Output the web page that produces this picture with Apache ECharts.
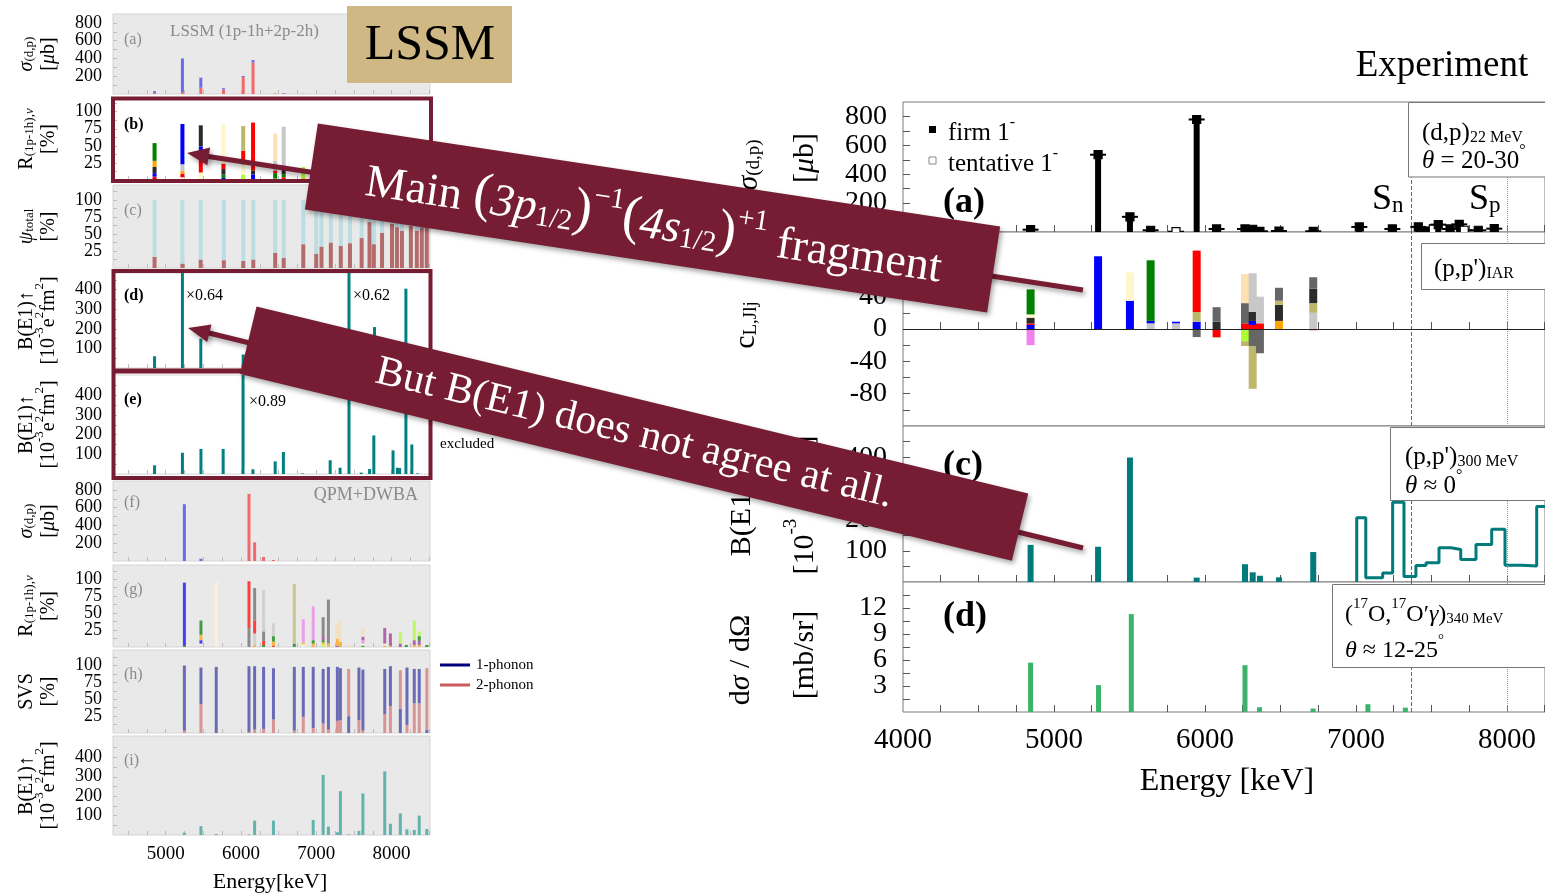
<!DOCTYPE html>
<html><head><meta charset="utf-8">
<script src="https://cdn.jsdelivr.net/npm/echarts@6/dist/echarts.min.js"></script>
<style>html,body{margin:0;padding:0;background:#fff}#c{width:1545px;height:896px}</style>
</head><body><div id="c"></div>
<script>
// ================= DATA =================
// ---- Left column (LSSM / QPM), energies in keV ----
// (a) LSSM sigma(d,p) [ub]: two stacked contributions
const lssmDpE    = [4852, 5222, 5466, 5767, 6029, 6160, 6454, 6567, 6827];
const lssmDpRed  = [13, 21, 70, 51, 191, 354, 6, 4, 2];
const lssmDpBlue = [19, 379, 114, 15, 12, 27, 0, 5, 0];
// (b) LSSM R(1p-1h) [%]: segments [component, value]
const lssmRE = [4852, 5222, 5466, 5767, 6029, 6160, 6454, 6567, 6827];
const lssmRSeg = [
  [[1,5],[0,5],[2,9],[11,9],[4,26]],
  [[3,4],[1,5],[11,4],[6,10],[0,59]],
  [[3,11],[1,23],[4,10],[0,5],[2,31]],
  [[0,3],[4,5],[2,8],[1,8],[3,59]],
  [[10,8],[3,15],[1,20],[7,36]],
  [[0,8],[2,6],[1,70]],
  [[5,2],[4,8],[1,4],[6,14],[9,40]],
  [[1,4],[4,4],[2,8],[7,4],[6,58]],
  [[11,3],[10,16]]
];
// (c) LSSM psi_total [%]
const psiE    = [4852, 5222, 5464, 5772, 6031, 6163, 6454, 6567, 6827, 6999, 7069, 7193, 7325, 7447, 7602, 7707, 7764, 7873, 8005, 8071, 8137, 8256, 8335, 8401, 8467];
const psiLow  = [16.5, 6.5, 12.5, 11.5, 10.5, 12.5, 22.5, 15, 35, 21, 31.5, 37.5, 32.5, 36.5, 44, 67.5, 35, 51.5, 65, 60, 55, 62, 55, 60, 75];
const psiHigh = [83.5, 93.5, 87.5, 88.5, 89.5, 87.5, 77.5, 85, 65, 79, 68.5, 62.5, 67.5, 63.5, 56, 32.5, 65, 48.5, 35, 40, 45, 38, 45, 40, 25];
// (d) LSSM B(E1) [1e-3 e2fm2]
const lssmBE = [4852, 5222, 5466, 6029, 7434, 7773, 8190];
const lssmB  = [60, 700, 150, 69, 700, 209, 405];
// (e) B(E1) [1e-3 e2fm2]
const e2E = [4852, 5222, 5468, 5763, 6027, 6158, 6454, 6563, 6818, 7184, 7316, 7434, 7597, 7708, 7764, 8019, 8077, 8107, 8190, 8269, 8344];
const e2B = [44, 108, 127, 127, 600, 24, 64, 112, 3, 70, 32, 600, 7, 25, 196, 120, 32, 30, 600, 150, 3];
// (f) QPM sigma(d,p)
const qpmDpE = [5248, 5468, 6106, 6181, 6300, 6431];
const qpmDpSeg = [[[1,639]], [[1,26]], [[0,755]], [[0,210]], [[0,45]], [[0,11]]];
// (g) QPM R(1p-1h)
const qpmRE = [5248, 5468, 5671, 6106, 6181, 6300, 6431, 6708, 6827, 6959, 7091, 7161, 7280, 7320, 7430, 7619, 7909, 7984, 8116, 8195, 8301, 8367, 8468];
const qpmRSeg = [
  [[4,2],[0,93]], [[6,2],[3,3],[0,5],[11,8],[4,21]], [[3,96]], [[8,28],[1,69]],
  [[11,3],[6,17],[1,19],[8,48]], [[4,3],[1,6],[8,14],[6,61]], [[1,2],[11,6],[4,8],[6,19]],
  [[4,5],[7,88]], [[3,4],[11,3],[5,34]], [[11,5],[4,5],[5,50]], [[10,4],[11,3],[4,3],[12,6],[8,28]],
  [[11,5],[8,65]], [[12,2],[11,10],[13,23]], [[11,8],[13,31]], [[13,4]], [[4,2],[3,3],[5,5],[12,5],[13,13]],
  [[11,2],[3,3],[12,23]], [[11,2],[12,18]], [[12,5],[10,17]], [[4,3]], [[11,3],[12,7],[10,29]],
  [[11,3],[12,6],[4,7],[10,7]], [[4,3]]
];
// (h) QPM SVS [%]: [0 = 2-phonon, 1 = 1-phonon]
const svsE = [5248, 5468, 5671, 6106, 6181, 6300, 6431, 6708, 6827, 6959, 7091, 7161, 7280, 7320, 7430, 7566, 7619, 7909, 7984, 8116, 8204, 8301, 8367, 8468];
const svsSeg = [
  [[0,3.5],[1,96.5]], [[0,43],[1,54]], [[1,98]], [[0,1],[1,98]], [[0,5],[1,94]], [[0,6],[1,92]],
  [[0,20],[1,76]], [[0,3.5],[1,94.5]], [[0,24],[1,74]], [[0,7.5],[1,90.5]], [[0,14],[1,81]], [[0,5],[1,93]],
  [[0,18],[1,80]], [[0,19],[1,77]], [[1,25],[0,70]], [[0,19],[1,78]], [[0,3.5],[1,90.5]], [[0,28],[1,67]],
  [[0,40],[1,59]], [[1,36],[0,57]], [[0,12],[1,85]], [[0,44],[1,51]], [[0,44],[1,51]], [[1,5],[0,91]]
];
// (i) QPM B(E1)
const qpmBE = [5248, 5468, 5671, 6106, 6181, 6431, 6959, 7091, 7161, 7280, 7320, 7430, 7566, 7619, 7909, 7984, 8116, 8204, 8301, 8367, 8468];
const qpmB  = [12, 46, 5, 3, 74, 74, 77, 309, 43, 14, 226, 3, 21, 214, 328, 58, 111, 29, 26, 100, 31];

// ---- Right column (Experiment) ----
const dpE     = [4845, 5292, 5503, 5640, 5808, 5945, 6077, 6265, 6316, 6364, 6490, 6717, 7022, 7241, 7413, 7468, 7512, 7545, 7623, 7684, 7717, 7810, 7916];
const dpSigma = [16, 535, 105, 12, 2, 779, 21, 21, 19, 5, 7, 5, 35, 21, 35, 7, 21, 51, 21, 53, 12, 12, 23];
const dpFirm  = [1, 1, 1, 1, 0, 1, 1, 1, 1, 1, 1, 1, 1, 1, 1, 1, 0, 1, 1, 1, 0, 1, 1];
const iarE = [4845, 5292, 5503, 5640, 5808, 5945, 6077, 6265, 6316, 6364, 6490, 6717];
const iarSeg = [
  [[0,5],[1,2],[2,7],[3,4],[4,31],[5,-20]],
  [[0,90]],
  [[0,35],[3,35]],
  [[6,7],[0,3],[4,75]],
  [[6,7],[0,2]],
  [[0,9],[7,12],[1,76],[8,-10]],
  [[2,9],[8,18],[1,-10],[7,-1]],
  [[1,7],[8,25],[9,36],[10,-15],[7,-6]],
  [[1,5],[0,5],[2,11],[6,48],[8,-21],[7,-53]],
  [[1,7],[6,33],[8,-30]],
  [[11,10],[2,20],[7,5],[8,16]],
  [[6,20],[7,12],[2,18],[8,14],[1,-1.5]]
];
const ppE = [4845, 5292, 5503, 5945, 6265, 6316, 6364, 6490, 6717];
const ppB = [119, 113, 399, 14, 57, 31, 20, 15, 96];
const ppHistEdges = [7005, 7065, 7177, 7243, 7318, 7397, 7464, 7550, 7629, 7694, 7795, 7899, 7987, 8099, 8197, 8300];
const ppHistVals  = [206, 14, 29, 256, 18, 53, 62, 110, 104, 72, 120, 169, 54, 51, 242];
const oxE   = [4845, 5295, 5512, 6265, 6361, 6716, 7079, 7327];
const oxSig = [5.7, 3.1, 11.3, 5.4, 0.55, 0.4, 0.9, 0.5];
const SN = 7368, SP = 8004;

// tick labels
const leftXLabels  = [5000, 6000, 7000, 8000];
const rightXLabels = [4000, 5000, 6000, 7000, 8000];
const pctLabels = [25, 50, 75, 100];
const sigLabels = [200, 400, 600, 800];
const be1Labels = [100, 200, 300, 400];
const rA = [200, 400, 600, 800], rB = [-80, -40, 0, 40, 80], rC = [100, 200, 300, 400], rD = [3, 6, 9, 12];

// ================= STYLE =================
const FF = 'Liberation Serif';
const MAROON = '#761d33';
const compColors = ['#0000ff','#ff0000','#2b2b2b','#fff6cc','#008000','#ee82ee','#c8c8c8','#bdb76b','#666666','#ffe0b0','#adff2f','#ffa500','#993399','#f5deb3'];
const sigmaColors = ['#f06a6a', '#6a6aef'];
const psiColors = ['#b36b6b', '#bcdde2'];
const svsColors = ['#d99494', '#6b6bb5'];

function range(a, b, s) { const r = []; for (let v = a; v <= b + 1e-9; v += s) r.push(+v.toFixed(6)); return r; }
function plain(v) { return String(v); }

function rich(size, color, lh) {
  lh = lh || Math.round(size * 1.25);
  const b = { fontFamily: FF, color: color, fill: color };
  const ss = Math.round(size * 0.64);
  return {
    m: Object.assign({}, b, { fontSize: size, lineHeight: lh, verticalAlign: 'bottom' }),
    i: Object.assign({}, b, { fontSize: size, lineHeight: lh, verticalAlign: 'bottom', fontStyle: 'italic' }),
    b: Object.assign({}, b, { fontSize: size, lineHeight: lh, verticalAlign: 'bottom', fontWeight: 'bold' }),
    s: Object.assign({}, b, { fontSize: ss, lineHeight: ss, verticalAlign: 'bottom' }),
    si: Object.assign({}, b, { fontSize: ss, lineHeight: ss, verticalAlign: 'bottom', fontStyle: 'italic' }),
    p: Object.assign({}, b, { fontSize: ss, lineHeight: ss, verticalAlign: 'top' }),
    big: Object.assign({}, b, { fontSize: Math.round(size * 1.2), lineHeight: lh, verticalAlign: 'bottom' })
  };
}
function txt(x, y, text, size, o) {
  o = o || {};
  const color = o.color || '#000';
  return { type: 'text', x: x, y: y, rotation: o.rot || 0, z: o.z || 70, silent: true,
    style: { text: text, fontFamily: FF, fontSize: size, fontWeight: o.weight || 'normal', fill: color,
      align: o.align || 'left', verticalAlign: o.va || 'middle', textAlign: o.align || 'left', textVerticalAlign: o.va || 'middle',
      rich: rich(size, color, o.lh) } };
}

// ================= LAYOUT =================
const LX = { left: 113, width: 317, min: 4300, max: 8510 };
const RX = { left: 903, width: 642, min: 4000, max: 8252 };
const leftPanels = [
  { top: 14,  h: 80, max: 900, lab: sigLabels, tick: range(100, 800, 100), bg: '#e9e9e9' },
  { top: 98,  h: 82, max: 120, lab: pctLabels, tick: range(12.5, 112.5, 12.5), bg: '#ffffff' },
  { top: 185, h: 83, max: 122, lab: pctLabels, tick: range(12.5, 112.5, 12.5), bg: '#e9e9e9' },
  { top: 273, h: 95, max: 485, lab: be1Labels, tick: range(50, 450, 50), bg: '#ffffff' },
  { top: 375, h: 99, max: 503, lab: be1Labels, tick: range(50, 450, 50), bg: '#ffffff' },
  { top: 481, h: 80, max: 900, lab: sigLabels, tick: range(100, 800, 100), bg: '#e9e9e9' },
  { top: 565, h: 82, max: 121, lab: pctLabels, tick: range(12.5, 112.5, 12.5), bg: '#e9e9e9' },
  { top: 650, h: 83, max: 123, lab: pctLabels, tick: range(12.5, 112.5, 12.5), bg: '#e9e9e9' },
  { top: 736, h: 99, max: 510, lab: be1Labels, tick: range(50, 450, 50), bg: '#e9e9e9' }
];
const rightPanels = [
  { top: 102, h: 130, min: 0,    max: 900, lab: rA, tick: range(100, 800, 100) },
  { top: 232, h: 194, min: -120, max: 120, lab: rB, tick: range(-100, 100, 20) },
  { top: 426, h: 156, min: 0,    max: 500, lab: rC, tick: range(50, 450, 50) },
  { top: 582, h: 130, min: 0,    max: 15,  lab: rD, tick: range(1.5, 13.5, 1.5) }
];

const grids = [], xAxes = [], yAxes = [];
function labelCfg(show, values, size, margin) {
  return { show: show, customValues: values, fontFamily: FF, fontSize: size, color: '#000', margin: margin,
    hideOverlap: false, showMinLabel: true, showMaxLabel: true, formatter: plain };
}
leftPanels.forEach(function (p, k) {
  grids.push({ left: LX.left, width: LX.width, top: p.top, height: p.h, show: true, backgroundColor: p.bg,
    borderColor: '#d4d4d4', borderWidth: 1, containLabel: false, outerBoundsMode: 'none' });
  xAxes.push({ type: 'value', gridIndex: k, min: LX.min, max: LX.max, position: 'bottom',
    axisLine: { show: false }, splitLine: { show: false },
    axisTick: { show: true, inside: true, length: 4, lineStyle: { color: '#bdbdbd' }, customValues: range(4500, 8500, 250) },
    axisLabel: labelCfg(k === 8, leftXLabels, 19, 10) });
  yAxes.push({ type: 'value', gridIndex: k, min: 0, max: p.max, position: 'left',
    axisLine: { show: false }, splitLine: { show: false },
    axisTick: { show: true, inside: true, length: 4, lineStyle: { color: '#bdbdbd' }, customValues: p.tick },
    axisLabel: { show: false } });
});
rightPanels.forEach(function (p, k) {
  const gi = 9 + k;
  grids.push({ left: RX.left, width: RX.width, top: p.top, height: p.h, show: true, backgroundColor: '#fff',
    borderColor: '#7a7a7a', borderWidth: 1, containLabel: false, outerBoundsMode: 'none' });
  xAxes.push({ type: 'value', gridIndex: gi, min: RX.min, max: RX.max, position: 'bottom',
    axisLine: { show: false }, splitLine: { show: false },
    axisTick: { show: true, inside: true, length: 7, lineStyle: { color: '#555' }, customValues: range(4250, 8250, 250) },
    axisLabel: labelCfg(k === 3, rightXLabels, 29, 14) });
  yAxes.push({ type: 'value', gridIndex: gi, min: p.min, max: p.max, position: 'left',
    axisLine: { show: false }, splitLine: { show: false },
    axisTick: { show: true, inside: true, length: 7, lineStyle: { color: '#555' }, customValues: p.tick },
    axisLabel: { show: false } });
});

// ================= SERIES =================
function segSeries(gi, energies, segs, palette, w, opacity) {
  return { type: 'custom', xAxisIndex: gi, yAxisIndex: gi, clip: true, z: 3, silent: true,
    data: energies.map(function (e, i) { return [e, i]; }),
    renderItem: function (params, api) {
      const e = api.value(0), idx = api.value(1);
      let pos = 0, neg = 0; const ch = [];
      segs[idx].forEach(function (s) {
        const v = s[1]; let a, b;
        if (v >= 0) { a = pos; b = pos + v; pos = b; } else { a = neg; b = neg + v; neg = b; }
        const p0 = api.coord([e, a]), p1 = api.coord([e, b]);
        ch.push({ type: 'rect', shape: { x: p0[0] - w / 2, y: Math.min(p0[1], p1[1]), width: w, height: Math.abs(p1[1] - p0[1]) },
          style: { fill: palette[s[0]], opacity: opacity || 1 } });
      });
      return { type: 'group', children: ch };
    } };
}
function barSeries(gi, xs, ys, color, w) {
  return { type: 'bar', xAxisIndex: gi, yAxisIndex: gi, barWidth: w, clip: true, silent: true,
    itemStyle: { color: color }, data: xs.map(function (x, i) { return [x, ys[i]]; }) };
}
function sepSeries(gi, extra) {
  return { type: 'line', xAxisIndex: gi, yAxisIndex: gi, data: [[SN, 0]], symbol: 'none', silent: true,
    lineStyle: { opacity: 0 },
    markLine: { silent: true, symbol: 'none', animation: false, label: { show: false },
      data: [ { xAxis: SN, lineStyle: { type: 'dashed', color: '#666', width: 1 } },
              { xAxis: SP, lineStyle: { type: 'dotted', color: '#999', width: 1 } } ].concat(extra || []) } };
}

const histPts = [[ppHistEdges[0], 0]];
ppHistVals.forEach(function (v, i) { histPts.push([ppHistEdges[i], v]); });
histPts.push([ppHistEdges[ppHistEdges.length - 1], ppHistVals[ppHistVals.length - 1]]);

const series = [
  segSeries(0, lssmDpE, lssmDpE.map(function (e, i) { return [[0, lssmDpRed[i]], [1, lssmDpBlue[i]]]; }), sigmaColors, 3),
  segSeries(1, lssmRE, lssmRSeg, compColors, 4),
  segSeries(2, psiE, psiE.map(function (e, i) { return [[0, psiLow[i]], [1, psiHigh[i]]]; }), psiColors, 4),
  barSeries(3, lssmBE, lssmB, '#008080', 3),
  barSeries(4, e2E, e2B, '#008080', 3),
  segSeries(5, qpmDpE, qpmDpSeg, sigmaColors, 3),
  segSeries(6, qpmRE, qpmRSeg, compColors, 3, 0.72),
  segSeries(7, svsE, svsSeg, svsColors, 3),
  barSeries(8, qpmBE, qpmB, '#62b2ae', 3),
  { type: 'custom', xAxisIndex: 9, yAxisIndex: 9, clip: true, z: 4, silent: true,
    data: dpE.map(function (e, i) { return [e, dpSigma[i], dpFirm[i]]; }),
    renderItem: function (params, api) {
      const e = api.value(0), v = api.value(1), firm = api.value(2);
      const p0 = api.coord([e, 0]), p1 = api.coord([e, v]);
      const ch = [];
      if (firm) ch.push({ type: 'rect', shape: { x: p1[0] - 3, y: p1[1], width: 6, height: p0[1] - p1[1] }, style: { fill: '#000' } });
      ch.push({ type: 'line', shape: { x1: p1[0] - 8, y1: p1[1], x2: p1[0] + 8, y2: p1[1] }, style: { stroke: '#000', lineWidth: 2 } });
      ch.push({ type: 'rect', shape: { x: p1[0] - 4, y: p1[1] - 4, width: 8, height: 8 }, style: { fill: firm ? '#000' : '#fff', stroke: '#000', lineWidth: 1.2 } });
      return { type: 'group', children: ch };
    } },
  segSeries(10, iarE, iarSeg, compColors, 8),
  barSeries(11, ppE, ppB, '#007a7a', 6),
  { type: 'line', xAxisIndex: 11, yAxisIndex: 11, step: 'end', data: histPts, symbol: 'none', clip: true, silent: true,
    lineStyle: { color: '#007a7a', width: 3 } },
  barSeries(12, oxE, oxSig, '#3bb36b', 5),
  sepSeries(9), sepSeries(10, [{ yAxis: 0, lineStyle: { type: 'solid', color: '#222', width: 1 } }]), sepSeries(11), sepSeries(12)
];

// ================= ANNOTATIONS =================
const G = [];
const leftNames = [
  ['{i|σ}{s|(d,p)}', '{m|[}{i|μ}{m|b]}'],
  ['{m|R}{s|(1p-1h)}{si|,ν}', '{m|[%]}'],
  ['{i|ψ}{s|total}', '{m|[%]}'],
  ['{m|B(E1)↑}', '{m|[10}{p|-3}{m|e}{p|2}{m|fm}{p|2}{m|]}'],
  ['{m|B(E1)↑}', '{m|[10}{p|-3}{m|e}{p|2}{m|fm}{p|2}{m|]}'],
  ['{i|σ}{s|(d,p)}', '{m|[}{i|μ}{m|b]}'],
  ['{m|R}{s|(1p-1h)}{si|,ν}', '{m|[%]}'],
  ['{m|SVS}', '{m|[%]}'],
  ['{m|B(E1)↑}', '{m|[10}{p|-3}{m|e}{p|2}{m|fm}{p|2}{m|]}']
];
leftPanels.forEach(function (p, k) {
  const cy = p.top + p.h / 2;
  G.push(txt(24, cy, leftNames[k][0], 20, { rot: Math.PI / 2, align: 'center' }));
  G.push(txt(46, cy, leftNames[k][1], 20, { rot: Math.PI / 2, align: 'center' }));
});
G.push(txt(745, 165, '{i|σ}{s|(d,p)}', 30, { rot: Math.PI / 2, align: 'center' }));
G.push(txt(801, 158, '{m|[}{i|μ}{m|b]}', 30, { rot: Math.PI / 2, align: 'center' }));
G.push(txt(742, 325, '{m|c}{s|L,Jlj}', 30, { rot: Math.PI / 2, align: 'center' }));
G.push(txt(738, 512, '{m|B(E1)↑}', 30, { rot: Math.PI / 2, align: 'center' }));
G.push(txt(801, 505, '{m|[10}{p|-3}{m| e}{p|2}{m|fm}{p|2}{m|]}', 30, { rot: Math.PI / 2, align: 'center' }));
G.push(txt(737, 660, '{m|d}{i|σ}{m| / dΩ}', 30, { rot: Math.PI / 2, align: 'center' }));
G.push(txt(801, 655, '{m|[mb/sr]}', 30, { rot: Math.PI / 2, align: 'center' }));
G.push(txt(270, 882, 'Energy[keV]', 22, { align: 'center' }));
G.push(txt(1227, 782, 'Energy [keV]', 32, { align: 'center' }));
const GRAY = '#8a8a8a';
G.push(txt(124, 40, '(a)', 16, { color: GRAY }));
G.push(txt(170, 32, 'LSSM (1p-1h+2p-2h)', 17, { color: GRAY }));
G.push(txt(124, 125, '(b)', 16, { weight: 'bold' }));
G.push(txt(124, 211, '(c)', 16, { color: GRAY }));
G.push(txt(124, 296, '(d)', 16, { weight: 'bold' }));
G.push(txt(186, 296, '×0.64', 16));
G.push(txt(353, 296, '×0.62', 16));
G.push(txt(124, 400, '(e)', 16, { weight: 'bold' }));
G.push(txt(249, 402, '×0.89', 16));
G.push(txt(124, 503, '(f)', 16, { color: GRAY }));
G.push(txt(418, 495, 'QPM+DWBA', 18, { color: GRAY, align: 'right' }));
G.push(txt(124, 590, '(g)', 16, { color: GRAY }));
G.push(txt(124, 675, '(h)', 16, { color: GRAY }));
G.push(txt(124, 761, '(i)', 16, { color: GRAY }));
G.push(txt(440, 444, 'excluded', 15));
G.push({ type: 'line', z: 70, silent: true, shape: { x1: 440, y1: 665, x2: 470, y2: 665 }, style: { stroke: '#00007f', lineWidth: 3 } });
G.push({ type: 'line', z: 70, silent: true, shape: { x1: 440, y1: 685, x2: 470, y2: 685 }, style: { stroke: '#cd5c5c', lineWidth: 3 } });
G.push(txt(476, 665, '1-phonon', 15));
G.push(txt(476, 685, '2-phonon', 15));
G.push(txt(943, 203, '(a)', 36, { weight: 'bold' }));
G.push(txt(943, 466, '(c)', 36, { weight: 'bold' }));
G.push(txt(943, 617, '(d)', 36, { weight: 'bold' }));
G.push({ type: 'rect', z: 69, silent: true, shape: { x: 929, y: 126, width: 7, height: 7 }, style: { fill: '#000' } });
G.push({ type: 'rect', z: 69, silent: true, shape: { x: 929, y: 157, width: 7, height: 7 }, style: { fill: '#fff', stroke: '#888', lineWidth: 1 } });
G.push(txt(948, 130, '{m|firm 1}{p|-}', 25));
G.push(txt(948, 161, '{m|tentative 1}{p|-}', 25));
G.push(txt(1372, 195, '{m|S}{s|n}', 36));
G.push(txt(1469, 195, '{m|S}{s|p}', 36));
function box(x, y, w, h) { return { type: 'rect', z: 65, silent: true, shape: { x: x, y: y, width: w, height: h }, style: { fill: '#fff', stroke: '#777', lineWidth: 1 } }; }
G.push(box(1408.5, 102.5, 140, 74.5));
G.push(txt(1422, 130, '{m|(d,p)}{s|22 MeV}', 25));
G.push(txt(1422, 158, '{i|θ}{m| = 20-30}{p|°}', 25));
G.push(box(1421.5, 243.5, 130, 46));
G.push(txt(1434, 266, "{m|(p,p')}{s|IAR}", 25));
G.push(box(1390.5, 427.5, 160, 73));
G.push(txt(1405, 454, "{m|(p,p')}{s|300 MeV}", 25));
G.push(txt(1405, 483, '{i|θ}{m| ≈ 0}{p|°}', 25));
G.push(box(1332.5, 584.5, 220, 83));
G.push(txt(1345, 612, "{m|(}{p|17}{m|O,}{p|17}{m|O′}{i|γ}{m|)}{s|340 MeV}", 24));
G.push(txt(1345, 648, '{i|θ}{m| ≈ 12-25}{p|°}', 24));
G.push(txt(1442, 66, 'Experiment', 37, { align: 'center' }));
G.push({ type: 'rect', z: 80, silent: true, shape: { x: 347, y: 6, width: 165, height: 77 }, style: { fill: '#cfb883' } });
G.push(txt(430, 46, 'LSSM', 50, { align: 'center', z: 81 }));
G.push({ type: 'rect', z: 85, silent: true, shape: { x: 113, y: 98.5, width: 318, height: 82.5 }, style: { fill: 'none', stroke: MAROON, lineWidth: 4 } });
G.push({ type: 'rect', z: 85, silent: true, shape: { x: 113.5, y: 271, width: 317, height: 207 }, style: { fill: 'none', stroke: MAROON, lineWidth: 4 } });
G.push({ type: 'line', z: 85, silent: true, shape: { x1: 113.5, y1: 371, x2: 430.5, y2: 371 }, style: { stroke: MAROON, lineWidth: 5 } });
const shadow = { shadowBlur: 5, shadowColor: 'rgba(0,0,0,0.35)', shadowOffsetX: 2, shadowOffsetY: 3 };
G.push({ type: 'line', z: 90, silent: true, shape: { x1: 1083, y1: 290, x2: 205, y2: 156 }, style: Object.assign({ stroke: MAROON, lineWidth: 5 }, shadow) });
G.push({ type: 'polygon', z: 90, silent: true, shape: { points: [[187, 153], [210.1, 147.4], [207.3, 165.2]] }, style: Object.assign({ fill: MAROON }, shadow) });
G.push({ type: 'line', z: 90, silent: true, shape: { x1: 1083, y1: 548, x2: 205, y2: 332 }, style: Object.assign({ stroke: MAROON, lineWidth: 5 }, shadow) });
G.push({ type: 'polygon', z: 90, silent: true, shape: { points: [[188, 328], [211.5, 324.6], [207.2, 342.0]] }, style: Object.assign({ fill: MAROON }, shadow) });
const wr = rich(46, '#fff');
G.push({ type: 'group', x: 652.5, y: 218, rotation: -0.150, z: 100, silent: true, children: [
  { type: 'rect', z: 100, shape: { x: -345, y: -43.5, width: 690, height: 87 }, style: Object.assign({ fill: MAROON }, shadow) },
  { type: 'text', z: 101, x: 2, y: 2, style: { text: '{m|Main }{big|(}{i|3p}{s|1/2}{big|)}{p|−1}{big|(}{i|4s}{s|1/2}{big|)}{p|+1}{m| fragment}',
      fontFamily: FF, fontSize: 46, fill: '#fff', align: 'center', verticalAlign: 'middle', textAlign: 'center', textVerticalAlign: 'middle', rich: wr } }
] });
G.push({ type: 'group', x: 634.2, y: 433.7, rotation: -0.2376, z: 100, silent: true, children: [
  { type: 'rect', z: 100, shape: { x: -397, y: -34.7, width: 794, height: 69.4 }, style: Object.assign({ fill: MAROON }, shadow) },
  { type: 'text', z: 101, x: 0, y: 0, style: { text: 'But B(E1) does not agree at all.', fontFamily: FF, fontSize: 42, fill: '#fff',
      align: 'center', verticalAlign: 'middle', textAlign: 'center', textVerticalAlign: 'middle' } }
] });

const chart = echarts.init(document.getElementById('c'), null, { renderer: 'canvas' });
chart.setOption({ animation: false, backgroundColor: '#fff', grid: grids, xAxis: xAxes, yAxis: yAxes, series: series });

// y-axis tick labels placed through the axes' own scales (avoids automatic overlap hiding)
const labelEls = [];
leftPanels.forEach(function (p, k) {
  p.lab.forEach(function (v) {
    const pt = chart.convertToPixel({ gridIndex: k }, [LX.min, v]);
    labelEls.push(txt(pt[0] - 11, pt[1], String(v), 18, { align: 'right', z: 10 }));
  });
});
rightPanels.forEach(function (p, k) {
  p.lab.forEach(function (v) {
    const pt = chart.convertToPixel({ gridIndex: 9 + k }, [RX.min, v]);
    labelEls.push(txt(pt[0] - 16, pt[1], String(v), 28, { align: 'right', z: 10 }));
  });
});
chart.setOption({ graphic: { elements: labelEls.concat(G) } });
</script></body></html>
